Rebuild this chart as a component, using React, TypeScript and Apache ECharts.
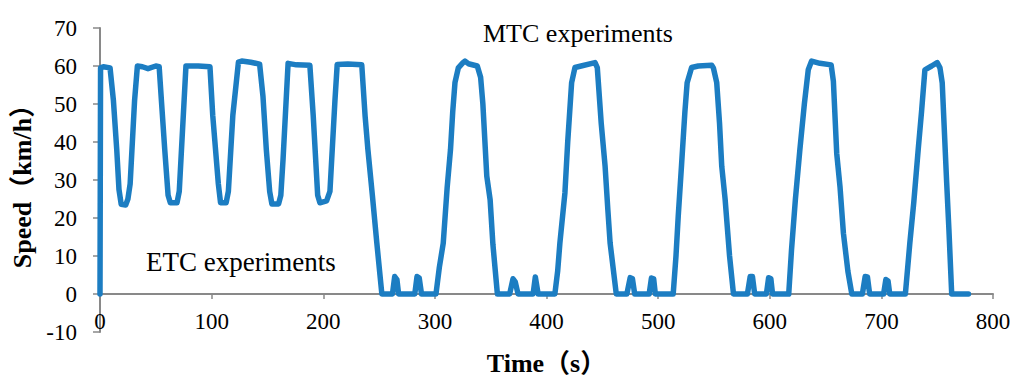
import React, { useEffect, useRef } from "react";
import * as echarts from "echarts";

// Time (s)
const times: number[] = [
  0, 0.5, 3, 9, 12, 15, 17, 19, 23, 25, 27, 31, 33.5, 38, 43, 50, 53,
  55, 58, 61, 63, 69, 71, 73, 77, 88, 98.5,
  101, 106, 108, 113, 115, 119, 124, 127, 135, 143,
  146, 149, 152, 154, 160, 162, 164, 168.5, 176, 188,
  191, 195, 197, 203, 206, 210.5, 212.5, 222, 234.5,
  237.5, 240, 244, 248, 252.5, 262, 264, 266, 267.5, 282, 284, 286, 288,
  301, 304, 307.5, 311, 314, 316, 318, 321, 325, 327, 330, 338, 341,
  343, 346.5, 349.5, 352, 356, 367, 370, 372, 374.5, 388, 390, 392.5,
  407.5, 410, 412, 416.5, 419, 422.5, 425.5, 431, 443.5, 445.5,
  449, 452.5, 455, 457, 462.5, 472, 475, 477, 479, 492, 494, 496, 497.5,
  513.5, 516, 518, 521, 524, 526, 530, 536, 548, 549.5,
  552.5, 555, 557, 560, 564, 567.5, 580, 582.5, 584.5, 586.5, 597, 599, 601, 602.5,
  617, 619.5, 623, 627, 631, 634.5, 637.5, 645, 655, 657,
  660, 663, 666, 670, 673.5, 683, 685.5, 687.5, 689.5, 702, 704, 706, 707.5,
  721.5, 725.5, 729, 733, 736, 739, 745, 750, 752.5, 754.5,
  758.5, 760.5, 763, 778,
];

// Speed (km/h)
const speeds: number[] = [
  0, 59.5, 59.8, 59.5, 51, 38, 27.5, 23.6, 23.4, 25, 29, 51, 60, 59.8, 59.3, 60, 59.8,
  51, 38, 26, 24, 24, 27, 38, 60, 60, 59.8,
  47, 29, 24, 24, 27, 47, 61, 61.3, 61, 60.5,
  52, 38, 27, 23.7, 23.7, 26, 35.5, 60.7, 60.3, 60.2,
  47, 26, 24, 24.5, 27, 51, 60.4, 60.5, 60.3,
  46.8, 38, 26, 13.4, 0, 0, 4.6, 3.8, 0, 0, 4.6, 4.2, 0,
  0, 7, 13.4, 28, 38, 48, 55.6, 59.5, 60.8, 61.3, 60.6, 60, 57,
  50, 31, 24.8, 13, 0, 0, 4, 3.2, 0, 0, 4.5, 0,
  0, 6, 13.4, 26.6, 40, 55.6, 59.6, 60, 60.9, 59.6,
  45, 33.6, 22, 13.4, 0, 0, 4.3, 4, 0, 0, 4.2, 4, 0,
  0, 10, 20.4, 34, 48, 55.6, 59.6, 60, 60.2, 59.5,
  55.6, 45, 33.6, 25, 10, 0, 0, 4.6, 4.6, 0, 0, 4.3, 4, 0,
  0, 11.6, 25, 38, 50, 59, 61.3, 60.7, 60.3, 56,
  37, 28, 16, 6, 0, 0, 4.6, 4.5, 0, 0, 3.8, 3.4, 0,
  0, 13.4, 24, 38, 48, 59, 60, 60.9, 59.5, 55.6,
  29.3, 17, 0, 0,
];

const xTicks = { min: 0, max: 800, interval: 100 };
const yTicks = { min: -10, max: 70, interval: 10 };

const annotations = [
  { text: "MTC experiments", x: 483, y: 33, size: 26 },
  { text: "ETC experiments", x: 146, y: 262, size: 27 },
];

const SERIF = "'Liberation Serif', 'Times New Roman', 'Noto Sans CJK SC', serif";

export default function App() {
  const ref = useRef<HTMLDivElement>(null);

  useEffect(() => {
    if (!ref.current) return;
    const chart = echarts.init(ref.current, undefined, { renderer: "svg" });
    const data = times.map((t, i) => [t, speeds[i]]);
    const axisGray = "#898989";
    const gridTop = 28;
    const gridBottom = 50;
    const plotH = 382 - gridTop - gridBottom;
    // place the horizontal axis on the zero line
    const zeroOffset = -(plotH * (0 - yTicks.min)) / (yTicks.max - yTicks.min);
    chart.setOption({
      animation: false,
      backgroundColor: "#ffffff",
      grid: { left: 100, right: 31, top: gridTop, bottom: gridBottom, outerBoundsMode: "none" },
      xAxis: {
        type: "value",
        position: "bottom",
        offset: zeroOffset,
        min: xTicks.min,
        max: xTicks.max,
        interval: xTicks.interval,
        name: "Time（s）",
        nameLocation: "middle",
        nameGap: 56,
        nameTextStyle: { fontFamily: SERIF, fontSize: 26, fontWeight: "bold", color: "#000" },
        axisLine: { show: true, onZero: false, lineStyle: { color: axisGray, width: 2 } },
        axisTick: { show: true, inside: false, length: 5, lineStyle: { color: axisGray, width: 1.5 } },
        axisLabel: { fontFamily: SERIF, fontSize: 23, color: "#000", margin: 16 },
        splitLine: { show: false },
      },
      yAxis: {
        type: "value",
        min: yTicks.min,
        max: yTicks.max,
        interval: yTicks.interval,
        name: "Speed（km/h）",
        nameLocation: "middle",
        nameGap: 59,
        nameTextStyle: { fontFamily: SERIF, fontSize: 26, fontWeight: "bold", color: "#000" },
        axisLine: { show: true, onZero: false, lineStyle: { color: axisGray, width: 2 } },
        axisTick: { show: true, inside: false, length: 7, lineStyle: { color: axisGray, width: 1.5 } },
        axisLabel: { fontFamily: SERIF, fontSize: 23, color: "#000", margin: 23 },
        splitLine: { show: false },
      },
      series: [
        {
          type: "line",
          data,
          showSymbol: false,
          symbol: "none",
          smooth: false,
          lineStyle: { color: "#1c7dc2", width: 5.5, cap: "round", join: "round" },
          z: 3,
        },
      ],
      graphic: annotations.map((a) => ({
        type: "text",
        x: a.x,
        y: a.y,
        style: {
          text: a.text,
          fontFamily: SERIF,
          fontSize: a.size,
          fill: "#000",
          verticalAlign: "middle",
          align: "left",
        },
      })),
    });
    return () => chart.dispose();
  }, []);

  return (
    <div
      ref={ref}
      style={{ position: "fixed", left: 0, top: 0, width: 1024, height: 382, background: "#fff" }}
    />
  );
}
